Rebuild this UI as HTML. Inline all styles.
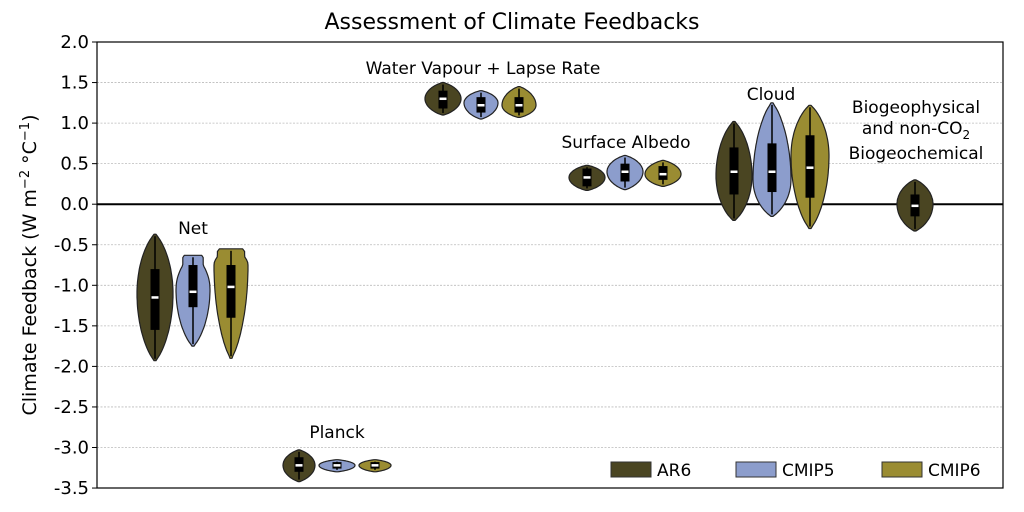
<!DOCTYPE html>
<html><head><meta charset="utf-8"><style>body{margin:0;background:#fff}svg{display:block;font-family:"DejaVu Sans","Liberation Sans",sans-serif}</style></head>
<body><svg id="s" width="1024" height="512" xmlns="http://www.w3.org/2000/svg">
<rect width="1024" height="512" fill="#fff"/>
<text x="512" y="29" font-size="22" text-anchor="middle">Assessment of Climate Feedbacks</text>
<g id="grid"></g>
<line x1="97" y1="204.2" x2="1003" y2="204.2" stroke="#000" stroke-width="2"/>
<g id="v"></g>
<rect x="97" y="42" width="906" height="446" fill="none" stroke="#000" stroke-width="1.2"/>
<text transform="translate(36,265) rotate(-90)" font-size="19" text-anchor="middle">Climate Feedback (W m<tspan dy="-7" font-size="13">−2</tspan><tspan dy="7"> °C</tspan><tspan dy="-7" font-size="13">−1</tspan><tspan dy="7">)</tspan></text>
<g font-size="17" text-anchor="middle">
<text x="193" y="234">Net</text>
<text x="337" y="438">Planck</text>
<text x="483" y="74">Water Vapour + Lapse Rate</text>
<text x="626" y="148">Surface Albedo</text>
<text x="771" y="100">Cloud</text>
<text x="916" y="113">Biogeophysical</text>
<text x="916" y="134">and non-CO<tspan dy="5" font-size="12">2</tspan></text>
<text x="916" y="159">Biogeochemical</text>
</g>
<g font-size="17">
<rect x="611" y="462" width="40" height="15" fill="#4a4522" stroke="#333"/><text x="657" y="476">AR6</text>
<rect x="736" y="462" width="40" height="15" fill="#8c9dcc" stroke="#333"/><text x="782" y="476">CMIP5</text>
<rect x="882" y="462" width="40" height="15" fill="#9a8c32" stroke="#333"/><text x="928" y="476">CMIP6</text>
</g>
</svg>
<script>
var Y=v=>204.2-81.1*v,NS="http://www.w3.org/2000/svg",g=document.getElementById('grid'),vg=document.getElementById('v'),s=document.getElementById('s');
function el(p,t,a,txt){var e=document.createElementNS(NS,t);for(var k in a)e.setAttribute(k,a[k]);if(txt)e.textContent=txt;p.appendChild(e);return e;}
for(var i=0;i<=11;i++){var v=2-0.5*i,y=Y(v);if(v!==0&&i>0&&i<11)el(g,'line',{x1:97,x2:1003,y1:y,y2:y,stroke:'#bbb','stroke-width':0.8,'stroke-dasharray':'2,1.5'});
el(g,'line',{x1:92,x2:97,y1:y,y2:y,stroke:'#000'});el(s,'text',{x:89,y:y+6,'font-size':18,'text-anchor':'end'},v.toFixed(1));}
var C=['#4a4522','#8c9dcc','#9a8c32'];
var V=[
[155,-1.93,-0.37,-1.1,18,-1.55,-0.8,-1.15,0,0],
[193,-1.75,-0.63,-1.05,17,-1.27,-0.75,-1.08,1,0.6],
[231,-1.9,-0.55,-0.75,17,-1.4,-0.75,-1.02,2,0.8],
[299,-3.42,-3.03,-3.22,16,-3.3,-3.12,-3.22,0,0],
[337,-3.3,-3.15,-3.22,18,-3.26,-3.18,-3.22,1,0],
[375,-3.3,-3.15,-3.22,16,-3.26,-3.18,-3.22,2,0],
[443,1.1,1.5,1.3,18,1.18,1.4,1.3,0,0],
[481,1.05,1.4,1.25,17,1.13,1.32,1.22,1,0],
[519,1.07,1.45,1.22,17,1.13,1.32,1.22,2,0],
[587,0.17,0.48,0.33,18,0.22,0.44,0.33,0,0],
[625,0.18,0.6,0.4,18,0.28,0.5,0.4,1,0],
[663,0.22,0.54,0.37,18,0.3,0.47,0.37,2,0],
[734,-0.2,1.02,0.35,18,0.12,0.7,0.4,0,0],
[772,-0.15,1.25,0.3,19,0.15,0.75,0.4,1,0],
[810,-0.3,1.22,0.6,19,0.08,0.85,0.45,2,0],
[915,-0.33,0.3,0,18,-0.15,0.12,-0.02,0,0]];
V.forEach(function(d){var cx=d[0],yt=Y(d[2]),yb=Y(d[1]),yp=Y(d[3]),hw=d[4],fl=d[9],N=40,L=[],R=[];
for(var i=0;i<=N;i++){var y=yt+(yb-yt)*i/N,t;if(y<yp)t=(yp-y)/(yp-yt);else t=(y-yp)/(yb-yp);
var w=hw*Math.pow(Math.max(0,1-t*t),0.75);
if(fl&&y<yp){var f=hw*fl*(i==0?0.85:1);w=Math.max(w,f);}
else if(i==0)w=1;
if(i==N)w=1;
L.push((cx-w).toFixed(1)+','+y.toFixed(1));R.unshift((cx+w).toFixed(1)+','+y.toFixed(1));}
el(vg,'path',{d:'M'+L.join('L')+'L'+R.join('L')+'Z',fill:C[d[8]],stroke:'#222','stroke-width':1.2,'stroke-linejoin':'round'});
el(vg,'line',{x1:cx,x2:cx,y1:yt+2,y2:yb-2,stroke:'#000','stroke-width':1.5});
el(vg,'rect',{x:cx-4.5,y:Y(d[6]),width:9,height:Y(d[5])-Y(d[6]),fill:'#000'});
el(vg,'line',{x1:cx-3.5,x2:cx+3.5,y1:Y(d[7]),y2:Y(d[7]),stroke:'#fff','stroke-width':2.5});});
</script>
</body></html>
